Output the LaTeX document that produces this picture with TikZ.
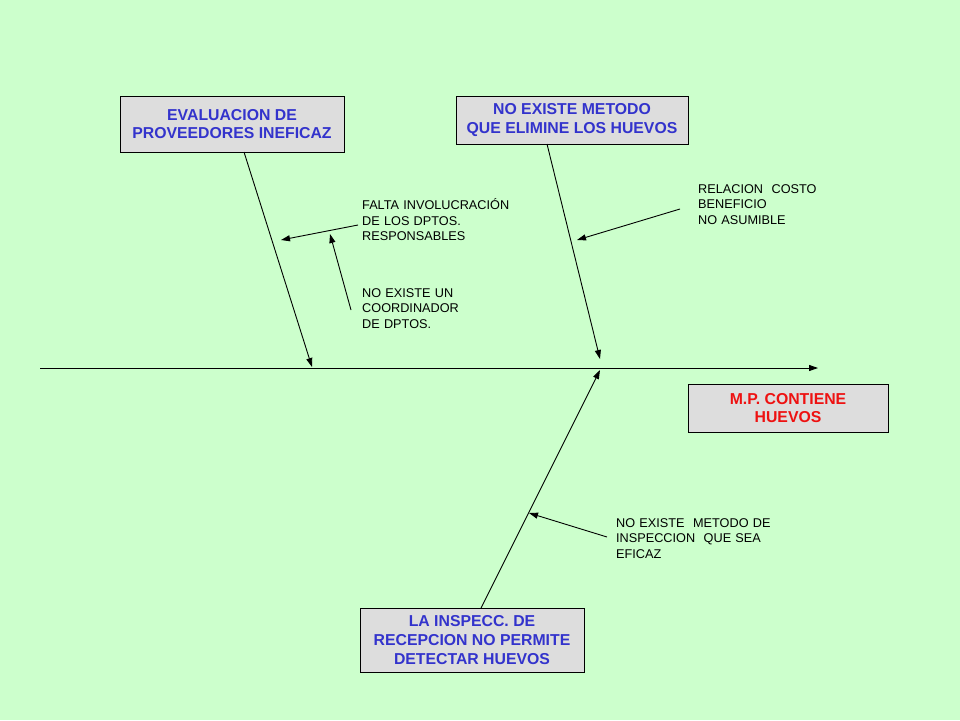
\documentclass[tikz,border=0pt]{standalone}
\usepackage{fontspec}
\setmainfont{Liberation Sans}
\usetikzlibrary{arrows.meta}
\definecolor{bgc}{HTML}{CCFFCC}
\definecolor{boxc}{HTML}{DDDDDD}
\definecolor{bluec}{HTML}{3333CC}
\definecolor{redc}{HTML}{EE1111}
\begin{document}
\begin{tikzpicture}[x=1pt,y=-1pt,
  causebox/.style={draw=black, line width=0.8pt, fill=boxc, inner sep=0pt, align=center,
    font=\fontsize{15.8}{18.8}\selectfont\bfseries, text=bluec},
  note/.style={anchor=base west, inner sep=0pt, text width=200pt, align=left,
    font=\fontsize{12.7}{15.6}\selectfont},
  arr/.style={line width=0.9pt, -{Triangle[length=9pt,width=6pt]}}]
\fill[bgc] (0,0) rectangle (960,720);
\useasboundingbox (0,0) rectangle (960,720);

% cause boxes
\node[causebox, minimum width=224pt, minimum height=56pt] (b1) at (232,124) {EVALUACION DE\\PROVEEDORES INEFICAZ};
\node[causebox, minimum width=232pt, minimum height=48pt] (b2) at (572,120) {NO EXISTE METODO\\ QUE ELIMINE LOS HUEVOS};
\node[causebox, minimum width=200pt, minimum height=48pt, text=redc] (b3) at (788,408) {M.P. CONTIENE\\HUEVOS};
\node[causebox, minimum width=224pt, minimum height=64pt] (b4) at (472,640) {LA INSPECC. DE\\RECEPCION NO PERMITE\\DETECTAR HUEVOS};

% spine
\coordinate (s0) at (40,368);
\coordinate (s1) at (818,368);
\draw[arr] (s0) -- (s1);

% bones
\coordinate (b1s) at (244,152);
\coordinate (b1e) at (312,367);
\draw[arr] (b1s) -- (b1e);
\coordinate (b2s) at (547,144);
\coordinate (b2e) at (600,359);
\draw[arr] (b2s) -- (b2e);
\coordinate (b4s) at (481,608);
\coordinate (b4e) at (600,370);
\draw[arr] (b4s) -- (b4e);

% notes
\node[note] (n1) at (362,209.5) {FALTA INVOLUCRACIÓN\\DE LOS DPTOS.\\RESPONSABLES};
\node[note] (n2) at (362,297) {NO EXISTE UN\\COORDINADOR\\DE DPTOS.};
\node[note] (n3) at (698,193) {RELACION\ \ COSTO\\BENEFICIO\\NO ASUMIBLE};
\node[note] (n4) at (616,527) {NO EXISTE\ \ METODO DE\\INSPECCION\ \ QUE SEA\\EFICAZ};

% sub arrows
\coordinate (a1s) at (358,225);
\coordinate (a1e) at (281,240);
\draw[arr] (a1s) -- (a1e);
\coordinate (a2s) at (351,310);
\coordinate (a2e) at (330,234);
\draw[arr] (a2s) -- (a2e);
\coordinate (a3s) at (680,209);
\coordinate (a3e) at (577,240);
\draw[arr] (a3s) -- (a3e);
\coordinate (a4s) at (607,537);
\coordinate (a4e) at (529,513);
\draw[arr] (a4s) -- (a4e);
\end{tikzpicture}
\end{document}
